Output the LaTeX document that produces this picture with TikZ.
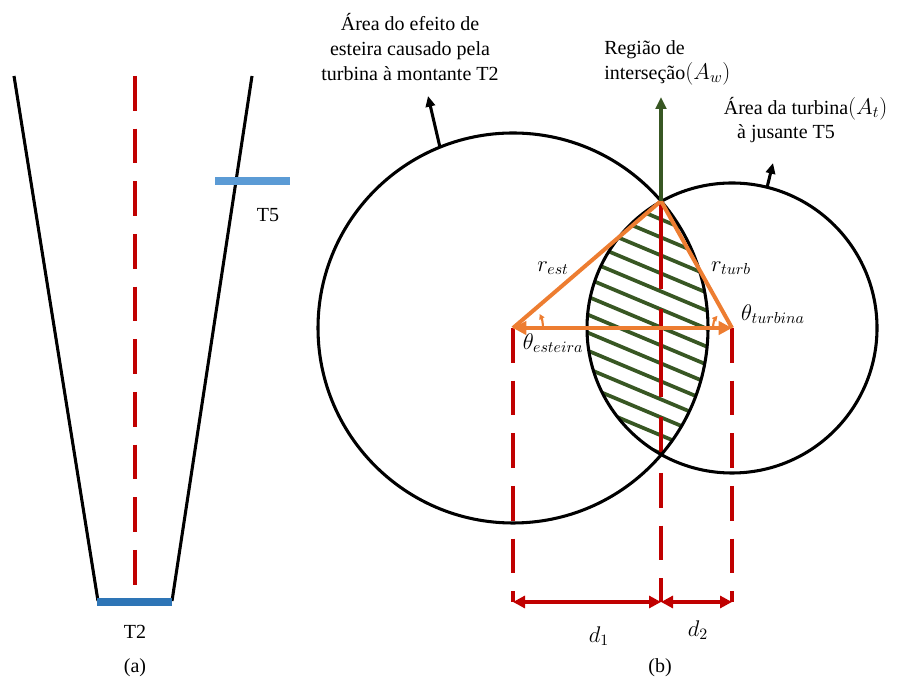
\RequirePackage{fix-cm}
\documentclass[tikz,border=0pt]{standalone}
\usepackage{fontspec}
\setmainfont{Liberation Serif}
\usetikzlibrary{arrows.meta, calc}
\definecolor{dashcol}{RGB}{192, 0, 0}
\definecolor{sidecol}{RGB}{237, 125, 49}
\definecolor{hatchcol}{RGB}{56, 87, 35}
\definecolor{bladecol}{RGB}{91, 155, 213}
\definecolor{rotorcol}{RGB}{46, 117, 182}
\newcommand{\bigmath}[1]{{\fontsize{17}{18}\selectfont$#1$}}
\tikzset{
  lbl/.style      = {font=\fontsize{15}{18.5}\selectfont, inner sep=0pt},
  mlbl/.style     = {font=\fontsize{17}{18}\selectfont, inner sep=0pt},
  edge/.style     = {draw=black, line width=2.3pt},
  rim/.style      = {draw=black, line width=2.3pt},
  axis/.style     = {draw=dashcol, line width=2.3pt,
                     dash pattern=on 26pt off 13.5pt},
  longaxis/.style = {axis, dash pattern=on 66pt off 15pt},
  hatch/.style    = {draw=hatchcol, line width=2.8pt},
  side/.style     = {draw=sidecol, line width=3pt},
  bar/.style      = {line width=6pt},
  pointer/.style  = {-{Triangle[length=8pt, width=7pt]}, draw=black,
                     line width=2.3pt},
  rise/.style     = {-{Triangle[length=9pt, width=8pt]}, draw=hatchcol,
                     line width=3pt},
  span/.style     = {{Triangle[length=10pt, width=10pt]}-{Triangle[length=10pt, width=10pt]},
                     side},
  angarc/.style   = {-{Triangle[length=4pt, width=4pt]}, draw=sidecol,
                     line width=1.6pt},
  dim/.style      = {{Triangle[length=9pt, width=9pt]}-{Triangle[length=9pt, width=9pt]},
                     draw=dashcol, line width=2.3pt},
}

\begin{document}
\begin{tikzpicture}[x=0.75pt, y=0.75pt]
  \useasboundingbox (0,0) rectangle (898,684);

  %% ---------------- (a) wake cone ----------------
  \coordinate (coneTL) at (14,608);
  \coordinate (coneBL) at (98,83);
  \coordinate (coneTR) at (252,608);
  \coordinate (coneBR) at (172,83);
  \draw[edge] (coneTL) -- (coneBL);
  \draw[edge] (coneTR) -- (coneBR);
  \draw[axis] (135,608) -- (135,84);
  \draw[bar, draw=bladecol] (215,503) -- (290,503);
  \draw[bar, draw=rotorcol] (97,82) -- (172,82);
  \node[lbl] (tfive) at (268,469) {T5};
  \node[lbl] (ttwo)  at (135,52)  {T2};
  \node[lbl] (capa)  at (135,16)  {(a)};

  %% ---------------- (b) overlap ----------------
  \coordinate (wake) at (513,356);
  \coordinate (turb) at (732,356);
  \coordinate (top)  at (661,483);
  \coordinate (bot)  at (661,229);
  \coordinate (dimy) at (0,82);

  % hatched lens
  \begin{scope}
    \clip (wake) circle[radius=195];
    \clip (turb) circle[radius=145];
    \foreach \k in {0,...,13}
      \draw[hatch] (560,{507-18*\k}) -- (760,{423-18*\k});
  \end{scope}

  \draw[longaxis] (top) -- (bot);
  \draw[axis, dash phase=26pt] (bot) -- (bot |- dimy);
  \draw[axis] (wake) -- (wake |- dimy);
  \draw[axis] (turb) -- (turb |- dimy);

  \draw[rim] (wake) circle[radius=195];
  \draw[rim] (turb) circle[radius=145];

  % triangle
  \draw[side] (wake) -- (top) -- (turb);
  \draw[span] (wake) -- (turb);
  \draw[angarc] ($(wake)+(30,0)$) arc[start angle=0, end angle=28, radius=30];
  \draw[angarc] ($(turb)+(-19,0)$) arc[start angle=180, end angle=140, radius=19];

  % pointers
  \coordinate (lensTip) at (661,587);
  \coordinate (wakeTip) at (428,588);
  \coordinate (turbTip) at (773,521);
  \draw[rise] (top) -- (lensTip);
  \draw[pointer] ($(wake)+(112:195)$) -- (wakeTip);
  \draw[pointer] ($(turb)+(76:145)$) -- (turbTip);

  % distances
  \draw[dim] (wake |- dimy) -- (top |- dimy);
  \draw[dim] (top |- dimy) -- (turb |- dimy);

  %% ---------------- labels ----------------
  \node[lbl, align=center] (wakelbl) at (410,637)
       {Área do efeito de\\esteira causado pela\\turbina à montante T2};
  \node[lbl, align=left, anchor=west] (lenslbl) at (604,621)
       {Região de\\interseção\bigmath{(A_w)}};
  \node[lbl, align=center] (turblbl) at (786,564)
       {Área da turbina\rlap{\bigmath{(A_t)}}\\à jusante T5};
  \node[mlbl] (rest)   at (553,416) {$r_{est}$};
  \node[mlbl] (rturb)  at (731,416) {$r_{turb}$};
  \node[mlbl] (thturb) at (773,370) {$\theta_{turbina}$};
  \node[mlbl] (thwake) at (553,341) {$\theta_{esteira}$};
  \node[mlbl] (done)   at (599,48)  {$d_1$};
  \node[mlbl] (dtwo)   at (698,54)  {$d_2$};
  \node[lbl]  (capb)   at (660,16)  {(b)};

\end{tikzpicture}
\end{document}
